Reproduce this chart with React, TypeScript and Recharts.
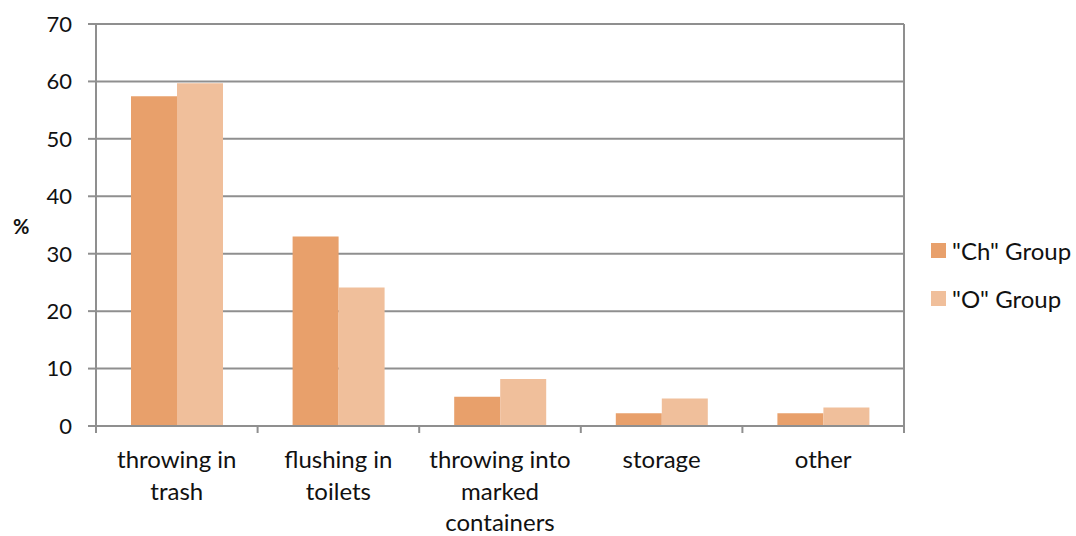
import React from 'react';
import { BarChart, Bar, XAxis, YAxis, CartesianGrid } from 'recharts';

const categories = ['throwing in trash', 'flushing in toilets', 'throwing into marked containers', 'storage', 'other'];
const categoryLines = [['throwing in', 'trash'], ['flushing in', 'toilets'], ['throwing into', 'marked', 'containers'], ['storage'], ['other']];
const chValues = [57.4, 33.0, 5.1, 2.2, 2.2];
const oValues = [59.7, 24.1, 8.2, 4.8, 3.2];
const yTicks = [0, 10, 20, 30, 40, 50, 60, 70];
const seriesNames = ['"Ch" Group', '"O" Group'];

const CH_COLOR = '#E8A06B';
const O_COLOR = '#F0BF9B';
const GRID = '#8f8f8f';
const FONT = 'Lato, "Open Sans", sans-serif';

const data = categories.map((name, i) => ({ name, ch: chValues[i], o: oValues[i] }));

const CategoryTick = (props: any) => {
  const { x, y, payload, index } = props;
  const half = payload.offset || 0;
  const lines = categoryLines[index] || [payload.value];
  return (
    <g>
      <line x1={x - half} y1={y} x2={x - half} y2={y + 7} stroke={GRID} strokeWidth={2} />
      {index === categories.length - 1 && (
        <line x1={x + half} y1={y} x2={x + half} y2={y + 7} stroke={GRID} strokeWidth={2} />
      )}
      {lines.map((l: string, k: number) => (
        <text key={k} x={x} y={y + 42 + k * 31.5} textAnchor="middle" fontSize={24} fill="#111" fontFamily={FONT}>
          {l}
        </text>
      ))}
    </g>
  );
};

export default function App() {
  return (
    <div style={{ position: 'absolute', left: 0, top: 0, width: 1076, height: 536, background: '#fff' }}>
      <BarChart
        width={1076}
        height={536}
        data={data}
        margin={{ top: 24, right: 172, bottom: 0, left: 40 }}
        barGap={0}
        barCategoryGap={35}
      >
        <CartesianGrid
          stroke={GRID}
          strokeWidth={2}
          verticalCoordinatesGenerator={({ offset }: any) => [offset.left, offset.left + offset.width]}
        />
        <XAxis
          dataKey="name"
          axisLine={{ stroke: GRID, strokeWidth: 2 }}
          tickLine={false}
          tickSize={0}
          tickMargin={0}
          tick={<CategoryTick />}
          interval={0}
          height={110}
        />
        <YAxis
          domain={[0, 70]}
          ticks={yTicks}
          width={56}
          axisLine={{ stroke: GRID, strokeWidth: 2 }}
          tickLine={{ stroke: GRID, strokeWidth: 2 }}
          tickSize={8}
          tickMargin={16}
          tick={{ fontSize: 22, fill: '#111', fontFamily: FONT }}
        />
        <Bar dataKey="ch" name={seriesNames[0]} fill={CH_COLOR} isAnimationActive={false} />
        <Bar dataKey="o" name={seriesNames[1]} fill={O_COLOR} isAnimationActive={false} />
      </BarChart>
      <div style={{ position: 'absolute', left: 13, top: 214, fontFamily: FONT, fontSize: 20, fontWeight: 'bold', color: '#111' }}>%</div>
      <div style={{ position: 'absolute', left: 931, top: 226, fontFamily: FONT, fontSize: 24, color: '#111' }}>
        {[CH_COLOR, O_COLOR].map((c, i) => (
          <div key={i} style={{ display: 'flex', alignItems: 'center', height: 48 }}>
            <span style={{ width: 15, height: 15, background: c, display: 'inline-block', marginRight: 6 }} />
            <span>{seriesNames[i]}</span>
          </div>
        ))}
      </div>
    </div>
  );
}
